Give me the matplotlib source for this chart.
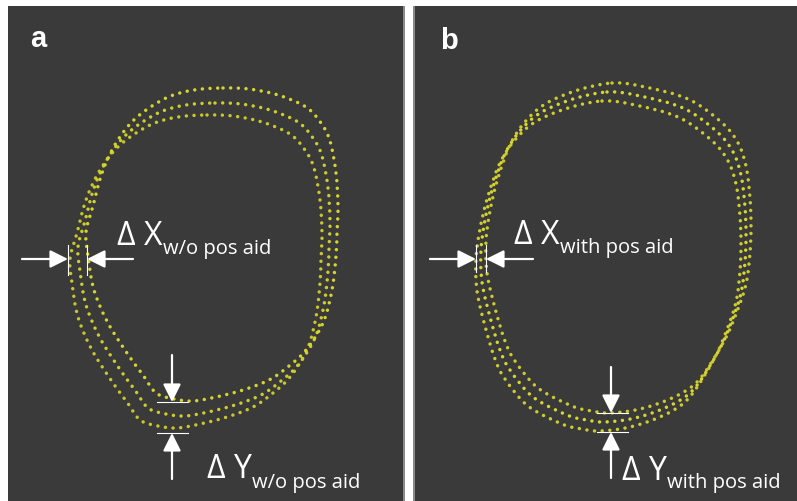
import numpy as np
import matplotlib
matplotlib.use("Agg")
import matplotlib.pyplot as plt
from matplotlib.path import Path
from matplotlib.patches import PathPatch, Rectangle

# ---------------- data (image pixel coordinates) ----------------
# panel a: base contour anchors (lowest / left-most of the three traces)
a_x = [207, 233, 262, 290, 305, 314, 320, 322, 321, 320, 316, 307, 290, 273, 253, 227,
       200, 177, 158, 140, 127, 113, 92, 78, 72, 70, 77, 86, 100, 120, 150, 178]
a_y = [115, 116, 122, 134, 150, 168, 200, 233, 260, 283, 317, 350, 377, 393, 407, 417,
       424, 428, 426, 420, 402, 383, 350, 317, 283, 259, 233, 200, 170, 145, 125, 117]
a_dx = [0, 8, 16]
a_dy = [0, -12, -27]

# panel b: base contour anchors (middle of the three traces)
b_x = [607, 640, 683, 715, 732, 741, 745, 746, 745, 741, 731, 718, 693, 667, 635, 605,
       587, 567, 533, 510, 500, 490, 482, 481, 485, 493, 508, 533, 567]
b_y = [92, 96, 108, 130, 150, 175, 207, 235, 262, 293, 323, 352, 390, 407, 418, 422,
       420, 415, 397, 370, 350, 317, 282, 250, 220, 187, 148, 118, 101]
b_dx = [-5, 0, 5]
b_dy = [9, 0, -9]

labels = ["a", "b"]
sub_a = "w/o pos aid"
sub_b = "with pos aid"

BG = "#3a3a3a"

fig = plt.figure(figsize=(7.97, 5.01), dpi=100)
ax = fig.add_axes([0, 0, 1, 1])
ax.set_xlim(0, 797)
ax.set_ylim(501, 0)
ax.axis("off")
fig.patch.set_facecolor("white")

# panels
ax.add_patch(Rectangle((8, 6), 395, 495, facecolor=BG, edgecolor="none"))
ax.add_patch(Rectangle((403, 6), 2, 495, facecolor="#8a8a8a", edgecolor="none"))
ax.add_patch(Rectangle((413, 6), 2, 495, facecolor="#8a8a8a", edgecolor="none"))
ax.add_patch(Rectangle((415, 6), 382, 495, facecolor=BG, edgecolor="none"))


def closed_path(xs, ys):
    P = np.column_stack([xs, ys]).astype(float)
    n = len(P)
    verts = [P[0]]
    codes = [Path.MOVETO]
    for i in range(n):
        p0, p1, p2, p3 = P[i - 1], P[i], P[(i + 1) % n], P[(i + 2) % n]
        c1 = p1 + (p2 - p0) / 6.0
        c2 = p2 - (p3 - p1) / 6.0
        verts += [c1, c2, p2]
        codes += [Path.CURVE4] * 3
    return Path(verts, codes)


def draw_traces(xs, ys, dxs, dys, colors):
    for dx, dy, c in zip(dxs, dys, colors):
        path = closed_path(np.array(xs) + dx, np.array(ys) + dy)
        ax.add_patch(PathPatch(path, fill=False, edgecolor=c, lw=2.5,
                               linestyle=(0, (0.01, 2.2)), capstyle="round"))


draw_traces(a_x, a_y, a_dx, a_dy, ["#c9c72a", "#cfcd2c", "#d6d42e"])
draw_traces(b_x, b_y, b_dx, b_dy, ["#cfcd2c", "#d8d630", "#cccb2b"])

# panel letters
ax.text(30, 47, labels[0], color="white", fontsize=21, fontweight="bold",
        family="Liberation Sans", va="baseline")
ax.text(440, 49, labels[1], color="white", fontsize=21, fontweight="bold",
        family="Liberation Sans", va="baseline")

FONT = "Open Sans"


def arrow(tip, start):
    ax.annotate("", xy=tip, xytext=start,
                arrowprops=dict(arrowstyle="-|>,head_length=0.9,head_width=0.45",
                                mutation_scale=12, color="white", lw=1.6,
                                shrinkA=0, shrinkB=0))


def dx_marker(x1, x2, y, left_start, right_start, y0, y1):
    arrow((x1, y), (left_start, y))
    arrow((x2, y), (right_start, y))
    for x in (x1, x2):
        ax.plot([x, x], [y0, y1], color="white", lw=0.8)


def dy_marker(x, y1, y2, top_start, bot_start, xa, xb):
    arrow((x, y1), (x, top_start))
    arrow((x, y2), (x, bot_start))
    for y in (y1, y2):
        ax.plot([xa, xb], [y, y], color="white", lw=0.8)


fig.canvas.draw()
renderer = fig.canvas.get_renderer()
inv = ax.transData.inverted()


def label(x, y, main, sub, ys):
    t = ax.text(x, y, main, color="white", fontsize=23, family=FONT, va="baseline")
    bb = t.get_window_extent(renderer)
    x1 = inv.transform((bb.x1, bb.y0))[0]
    ax.text(x1 + 0.5, ys, sub, color="white", fontsize=14.5, family=FONT, va="baseline")


# panel a markers
dx_marker(68, 87, 259, 22, 133, 245, 275)
dy_marker(172, 402, 433, 355, 479, 157, 188)
label(117, 245, "\u0394 X", sub_a, 254)
label(207, 478, "\u0394 Y", sub_a, 488)

# panel b markers
dx_marker(476, 486, 259, 430, 533, 245, 272)
dy_marker(611, 413, 432, 367, 478, 597, 628)
label(514, 244, "\u0394 X", sub_b, 253)
label(622, 480, "\u0394 Y", sub_b, 488)

fig.savefig("out.png", dpi=100, facecolor="white")
